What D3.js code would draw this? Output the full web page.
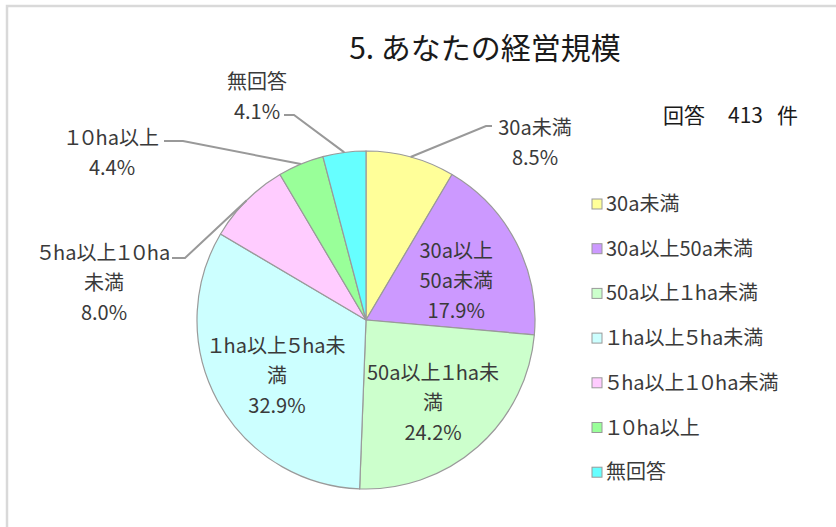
<!DOCTYPE html>
<html>
<head>
<meta charset="utf-8">
<script src="https://cdn.jsdelivr.net/npm/d3@7"></script>
<style>
  body { margin: 0; background: #fff; }
  svg text { font-family: "Noto Sans CJK JP", "Noto Sans", sans-serif; fill: #3a3a3a; }
  svg text.fw { font-feature-settings: "palt"; }
</style>
</head>
<body>
<div id="chart"></div>
<script>
// Data
const categories = ['30a未満', '30a以上50a未満', '50a以上１ha未満', '１ha以上５ha未満', '５ha以上１０ha未満', '１０ha以上', '無回答'];
const percents = [8.5, 17.9, 24.2, 32.9, 8.0, 4.4, 4.1];
const colors = ['#ffff99', '#cc99ff', '#ccffcc', '#ccffff', '#ffccff', '#99ff99', '#66ffff'];
// how the data labels wrap, like the original
const labelLines = [
    ['30a未満'],
    ['30a以上', '50a未満'],
    ['50a以上１ha未', '満'],
    ['１ha以上５ha未', '満'],
    ['５ha以上１０ha', '未満'],
    ['１０ha以上'],
    ['無回答']
];
const title = '5. あなたの経営規模';
const total = 413;

const width = 836, height = 527;
const cx = 366, cy = 320, radius = 169;

// outside labels: text centre + leader line elbow (null = inside the slice)
const outside = [
    { x: 535, y: 128, elbow: [[492, 126], [486, 126]] },
    null,
    null,
    null,
    { x: 104, y: 253, elbow: [[172, 258], [185, 258]] },
    { x: 112, y: 138, elbow: [[164, 141], [183, 141]] },
    { x: 257, y: 82, elbow: [[284, 115], [294, 115]] }
];

const svg = d3.select('#chart')
    .append('svg')
    .attr('width', width)
    .attr('height', height);

// frame (only top/left visible in the crop)
svg.append('rect')
    .attr('x', 7).attr('y', 6)
    .attr('width', width + 20).attr('height', height + 20)
    .attr('fill', '#fff')
    .attr('stroke', '#d9d9d9')
    .attr('stroke-width', 2.5);

svg.append('text')
    .attr('x', 485).attr('y', 59)
    .attr('text-anchor', 'middle')
    .style('font-size', '30px')
    .style('fill', '#1a1a1a')
    .attr('xml:space', 'preserve')
    .text(title);

// "回答 413 件"
const count = svg.append('text')
    .attr('y', 123)
    .style('font-size', '21px')
    .style('fill', '#1a1a1a');
count.append('tspan').attr('x', 663).text('回答');
count.append('tspan').attr('x', 728).text(total);
count.append('tspan').attr('x', 777).text('件');

const data = categories.map((c, i) => ({ name: c, value: percents[i], color: colors[i], lines: labelLines[i], out: outside[i] }));

const pie = d3.pie().value(d => d.value).sort(null);
const arcs = pie(data);

const arc = d3.arc().innerRadius(0).outerRadius(radius);
const edgeArc = d3.arc().innerRadius(radius).outerRadius(radius);
const labelArc = d3.arc().innerRadius(radius * 0.6).outerRadius(radius * 0.6);

const g = svg.append('g').attr('transform', `translate(${cx},${cy})`);

g.selectAll('.slice')
    .data(arcs)
    .enter()
    .append('path')
    .attr('class', 'slice')
    .attr('d', arc)
    .attr('fill', d => d.data.color)
    .attr('stroke', '#9a9a9a')
    .attr('stroke-width', 1.2);

// leader lines
const line = d3.line();
g.selectAll('.leader')
    .data(arcs.filter(d => d.data.out))
    .enter()
    .append('path')
    .attr('class', 'leader')
    .attr('fill', 'none')
    .attr('stroke', '#999')
    .attr('stroke-width', 2)
    .attr('d', d => {
        const e = edgeArc.centroid(d);
        const pts = d.data.out.elbow.map(p => [p[0] - cx, p[1] - cy]);
        return line([pts[0], pts[1], e]);
    });

const lineH = 30;

// data labels
arcs.forEach(d => {
    let x, y;
    const lines = d.data.lines.concat([d.data.value.toFixed(1) + '%']);
    if (d.data.out) {
        x = d.data.out.x - cx;
        y = d.data.out.y - cy;
    } else {
        const c = labelArc.centroid(d);
        x = c[0];
        y = c[1] - (lines.length - 1) * lineH / 2 + 7;
    }
    const t = g.append('text')
        .attr('class', 'fw')
        .attr('text-anchor', 'middle')
        .style('font-size', '20px');
    lines.forEach((s, i) => {
        t.append('tspan')
            .attr('x', x)
            .attr('y', y + i * lineH)
            .attr('dy', '0.35em')
            .text(s);
    });
});

// legend
const legend = svg.append('g').attr('transform', 'translate(592,204)');
const item = legend.selectAll('.item')
    .data(data)
    .enter()
    .append('g')
    .attr('class', 'item')
    .attr('transform', (d, i) => `translate(0,${i * 44.7})`);

item.append('rect')
    .attr('x', 0).attr('y', -5)
    .attr('width', 10).attr('height', 10)
    .attr('fill', d => d.color)
    .attr('stroke', '#999')
    .attr('stroke-width', 1);

item.append('text')
    .attr('class', 'fw')
    .attr('x', 14).attr('dy', '0.35em')
    .style('font-size', '20px')
    .text(d => d.name);
</script>
</body>
</html>
